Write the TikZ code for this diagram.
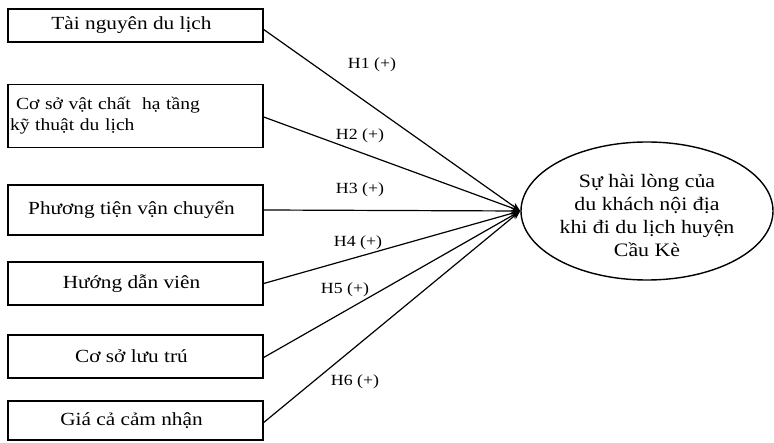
\documentclass[tikz,border=0pt]{standalone}
\usepackage{fontspec}
\setmainfont[FakeStretch=1.15]{Liberation Serif}
\usetikzlibrary{arrows.meta,shapes.geometric}
\begin{document}
\begin{tikzpicture}[x=1pt,y=-1pt,
  box/.style={draw,line width=1.4pt,minimum width=255pt,inner sep=0pt,font=\fontsize{18.5}{24}\selectfont},
  conn/.style={line width=1.2pt,-{Stealth[length=9pt,width=7pt]}},
  hlab/.style={font=\fontsize{15.5}{18}\selectfont,inner sep=1pt}]
\useasboundingbox (0,0) rectangle (774,443);
\node[box,minimum height=33pt] (b1) at (135.5,25.5) {Tài nguyên du lịch\hspace*{8pt}};
\node[box,minimum height=63pt,align=left,text width=251pt,font=\fontsize{17}{21}\selectfont] (b2) at (135.5,116) {\hspace*{6pt}Cơ sở vật chất\ \ hạ tầng\\kỹ thuật du lịch};
\node[box,minimum height=50pt] (b3) at (135.5,210) {Phương tiện vận chuyển\hspace*{8pt}};
\node[box,minimum height=43pt] (b4) at (135.5,283.5) {Hướng dẫn viên\hspace*{8pt}};
\node[box,minimum height=43pt] (b5) at (135.5,356.5) {Cơ sở lưu trú\hspace*{8pt}};
\node[box,minimum height=39pt] (b6) at (135.5,420.5) {Giá cả cảm nhận\hspace*{8pt}};
\node[draw,ellipse,line width=1.4pt,minimum width=252pt,minimum height=138pt,inner sep=0pt] (e) at (647,211) {};
\node[align=center,inner sep=0pt,font=\fontsize{19}{23}\selectfont] (et) at (647,215) {Sự hài lòng của\\du khách nội địa\\khi đi du lịch huyện\\Cầu Kè};
\draw[conn] ([yshift=-4pt]b1.east) -- (e.west);
\draw[conn] ([yshift=-1pt]b2.east) -- (e.west);
\draw[conn] (b3.east) -- (e.west);
\draw[conn] (b4.east) -- (e.west);
\draw[conn] ([yshift=-1pt]b5.east) -- (e.west);
\draw[conn] ([yshift=-2pt]b6.east) -- (e.west);
\node[hlab] (h1) at (372,65) {H1 (+)};
\node[hlab] (h2) at (360,136) {H2 (+)};
\node[hlab] (h3) at (360,190) {H3 (+)};
\node[hlab] (h4) at (358,243) {H4 (+)};
\node[hlab] (h5) at (345,290) {H5 (+)};
\node[hlab] (h6) at (355,382) {H6 (+)};
\end{tikzpicture}
\end{document}
